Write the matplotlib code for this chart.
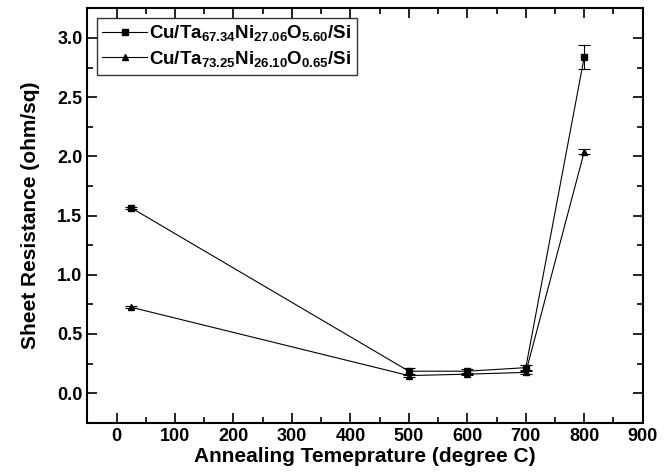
import numpy as np
import matplotlib
matplotlib.use('Agg')
import matplotlib.pyplot as plt
from matplotlib.ticker import MultipleLocator
from matplotlib.lines import Line2D

plt.rcParams['font.family'] = ['Liberation Sans', 'DejaVu Sans']
plt.rcParams['font.weight'] = 'bold'
plt.rcParams['mathtext.fontset'] = 'custom'
plt.rcParams['mathtext.rm'] = 'Liberation Sans:bold'
plt.rcParams['mathtext.bf'] = 'Liberation Sans:bold'
plt.rcParams['mathtext.default'] = 'bf'

# data
temp = [25, 500, 600, 700, 800]
r1 = [1.565, 0.185, 0.185, 0.215, 2.84]
e1 = [0.01, 0.03, 0.02, 0.02, 0.10]
r2 = [0.725, 0.148, 0.160, 0.175, 2.04]
e2 = [0.01, 0.01, 0.01, 0.015, 0.02]
lab1 = r'Cu/Ta$_{67.34}$Ni$_{27.06}$O$_{5.60}$/Si'
lab2 = r'Cu/Ta$_{73.25}$Ni$_{26.10}$O$_{0.65}$/Si'

fig = plt.figure(figsize=(6.7, 4.75), dpi=100)
ax = fig.add_axes([0.1303, 0.1101, 0.829, 0.8724])

ax.errorbar(temp, r1, yerr=e1, color='black', lw=0.8, marker='s', ms=5,
            capsize=4, elinewidth=0.8, capthick=0.8)
ax.errorbar(temp, r2, yerr=e2, color='black', lw=0.8, marker='^', ms=5,
            capsize=4, elinewidth=0.8, capthick=0.8)

ax.set_xlim(-50, 900)
ax.set_ylim(-0.25, 3.25)
ax.xaxis.set_major_locator(MultipleLocator(100))
ax.xaxis.set_minor_locator(MultipleLocator(50))
ax.yaxis.set_major_locator(MultipleLocator(0.5))
ax.yaxis.set_minor_locator(MultipleLocator(0.25))
ax.yaxis.set_major_formatter(matplotlib.ticker.FormatStrFormatter('%.1f'))
ax.tick_params(which='both', direction='in', top=True, right=True,
               labelsize=13, width=1.2)
ax.tick_params(which='major', length=7)
ax.tick_params(which='minor', length=4)
for s in ax.spines.values():
    s.set_linewidth(1.5)

ax.set_xlabel('Annealing Temeprature (degree C)', fontsize=15, fontweight='bold', labelpad=2)
ax.set_ylabel('Sheet Resistance (ohm/sq)', fontsize=15, fontweight='bold', labelpad=12)

handles = [Line2D([], [], color='black', lw=0.8, marker='s', ms=4),
           Line2D([], [], color='black', lw=0.8, marker='^', ms=4)]
leg = ax.legend(handles, [lab1, lab2], loc='upper left', fontsize=13.5,
                fancybox=False, edgecolor='black', handlelength=2.4,
                borderaxespad=0.5, labelspacing=0.3, handletextpad=0.1,
                borderpad=0.3)
leg.get_frame().set_linewidth(1.0)

plt.savefig('out.png', dpi=100)
